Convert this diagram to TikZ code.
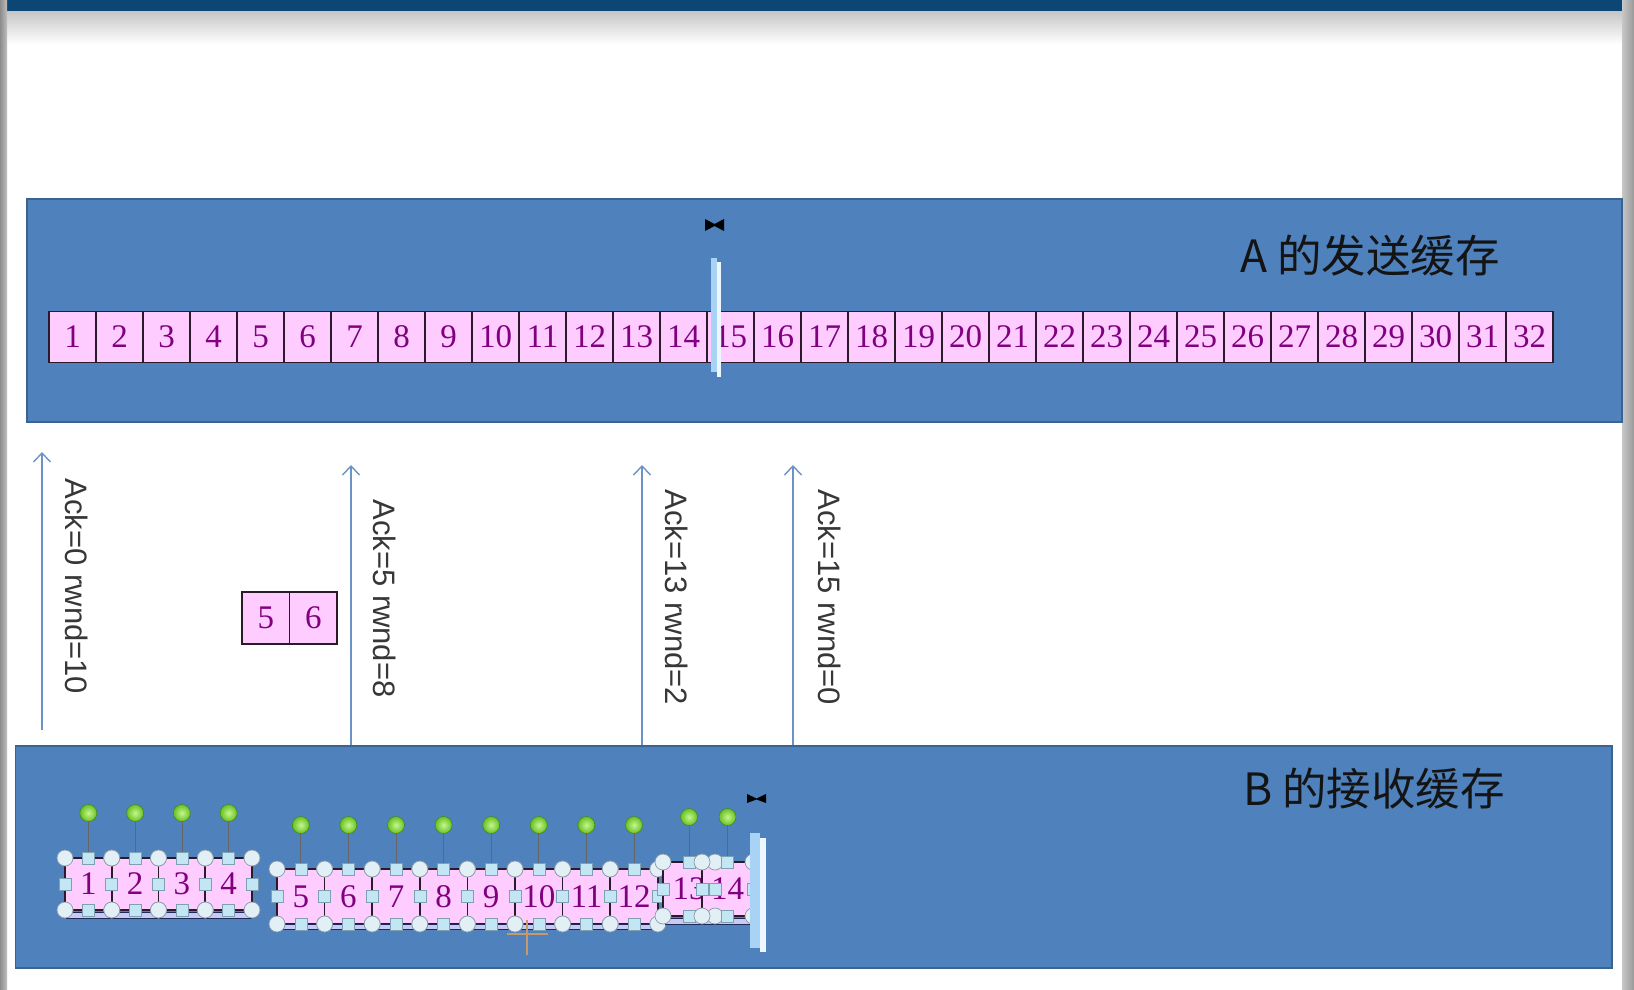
\documentclass[tikz,border=0pt]{standalone}
\usepackage{fontspec}
\setmainfont{Liberation Serif}
\newfontfamily\labelsans{Liberation Sans}
\newfontfamily\cjkfont{Noto Sans CJK SC}
\usetikzlibrary{arrows.meta}

\definecolor{bufblue}{HTML}{4F81BD}
\definecolor{bufedge}{HTML}{3A6391}
\definecolor{cellpink}{HTML}{FFCCFF}
\definecolor{cellline}{HTML}{2A1A2A}
\definecolor{digitpurple}{HTML}{800080}
\definecolor{ackblue}{HTML}{6C93C6}
\definecolor{inkdark}{HTML}{141414}
\definecolor{headbar}{HTML}{0B4675}
\definecolor{cursorlight}{HTML}{A9D3F5}
\definecolor{cursorpale}{HTML}{EEF6FF}
\definecolor{knobfill}{HTML}{E2F0F6}
\definecolor{knobedge}{HTML}{8A9AA8}
\definecolor{sidefill}{HTML}{C2E6F4}
\definecolor{sideedge}{HTML}{7FA0B0}
\definecolor{rotgreen}{HTML}{66C222}
\definecolor{rotlight}{HTML}{C8F590}
\definecolor{barfill}{HTML}{C9C9F2}
\definecolor{barline}{HTML}{1E2A5A}
\definecolor{crosstan}{HTML}{C49A6C}

% selection handles around one cell: left, right, top, bottom, rotation-knob y
\newcommand{\selhandles}[5]{%
  \pgfmathsetmacro\selL{#1}\pgfmathsetmacro\selR{#2}%
  \pgfmathsetmacro\selT{#3}\pgfmathsetmacro\selB{#4}\pgfmathsetmacro\selG{#5}%
  \pgfmathsetmacro\selM{(\selL+\selR)/2}\pgfmathsetmacro\selV{(\selT+\selB)/2}%
  \draw[rotstem] (\selM,\selG) -- (\selM,\selT);
  \shade[inner color=rotlight, outer color=rotgreen] (\selM,\selG) circle (8.5pt);
  \draw[rotgreen!70!black, line width=0.6pt] (\selM,\selG) circle (8.5pt);
  \foreach \cx/\cy in {\selL/\selT,\selR/\selT,\selL/\selB,\selR/\selB}
    {\filldraw[cornerknob] (\cx,\cy) circle (8pt);}
  \foreach \sx/\sy in {\selM/\selT,\selM/\selB,\selL/\selV,\selR/\selV}
    {\filldraw[sideknob] (\sx-6,\sy-6) rectangle (\sx+6,\sy+6);}
}

\begin{document}
\begin{tikzpicture}[x=1pt,y=-1pt,
  bufbox/.style={draw=bufedge, line width=1.5pt, fill=bufblue, inner sep=0pt},
  cell/.style={draw=cellline, line width=1.1pt, fill=cellpink, text=digitpurple,
    minimum width=47pt, minimum height=51pt, inner sep=0pt,
    font=\fontsize{33}{33}\selectfont},
  ackarrow/.style={draw=ackblue, line width=1.4pt,
    -{Straight Barb[length=9pt,width=17pt,line width=1.4pt]}},
  acklabel/.style={rotate=-90, inner sep=0pt, text=inkdark!85,
    font=\labelsans\fontsize{31}{31}\selectfont},
  bufttl/.style={anchor=base west, inner sep=0pt, text=inkdark,
    font=\cjkfont\fontsize{44.5}{44.5}\selectfont},
  rotstem/.style={draw=black!60, line width=0.7pt},
  cornerknob/.style={fill=knobfill, draw=knobedge, line width=0.7pt},
  sideknob/.style={fill=sidefill, draw=sideedge, line width=0.6pt},
  groupbar/.style={fill=barfill, draw=barline, line width=1pt},
  cursorbar/.style={fill=cursorlight, draw=none},
  cursorshade/.style={fill=cursorpale, draw=none},
  bowtie/.style={fill=black}
]
\useasboundingbox (0,0) rectangle (1634,990);
\fill[white] (0,0) rectangle (1634,990);

% window frame: header band, its soft shadow, side edges
\fill[headbar] (7,0) rectangle (1622,12);
\shade[top color=black!22, bottom color=white] (7,12) rectangle (1622,44);
\shade[left color=black!45, right color=black!25] (0,0) rectangle (7,990);
\shade[left color=black!22, right color=black!40] (1622,0) rectangle (1634,990);

% sender buffer
\node[bufbox, minimum width=1595pt, minimum height=223pt] (sendbuf) at (824.5,310.5) {};
\node[bufttl] (sendttl) at (1240,272) {A 的发送缓存};
\foreach \i in {1,...,32}
  \node[cell] (a\i) at ({25.5+47*\i},337) {\i};

% text cursor between 14 and 15
\fill[cursorbar] (711,258) rectangle (717,372);
\fill[cursorshade] (717,262) rectangle (721,377);
\fill[bowtie] (705,219) -- (714.5,224) -- (724,219) -- (724,231) -- (714.5,226) -- (705,231) -- cycle;

% receiver buffer
\node[bufbox, minimum width=1596.5pt, minimum height=222pt] (recvbuf) at (813.75,857) {};
\node[bufttl] (recvttl) at (1243,805) {B 的接收缓存};

% acknowledgements from B to A
\coordinate (t1) at (42,452);
\coordinate (f1) at (42,730);
\coordinate (t2) at (351,465);
\coordinate (t3) at (642,465);
\coordinate (t4) at (793,465);
\draw[ackarrow] (f1) -- (t1);
\draw[ackarrow] (t2 |- recvbuf.north) -- (t2);
\draw[ackarrow] (t3 |- recvbuf.north) -- (t3);
\draw[ackarrow] (t4 |- recvbuf.north) -- (t4);
\node[acklabel] (l1) at (77,586.5) {Ack=0 rwnd=10};
\node[acklabel] (l2) at (385,598.5) {Ack=5 rwnd=8};
\node[acklabel] (l3) at (677,597.5) {Ack=13 rwnd=2};
\node[acklabel] (l4) at (830,597.5) {Ack=15 rwnd=0};

% segments 5 and 6 in flight
\node[cell, minimum width=47.5pt, minimum height=52pt] (p5) at (265.75,618) {5};
\node[cell, minimum width=47.5pt, minimum height=52pt] (p6) at (313.25,618) {6};

% received bytes 1-4 (selected group)
\foreach \i in {1,...,4}
  \node[cell, minimum width=46.75pt, minimum height=52pt, line width=1.6pt] (b\i)
    at ({41.625+46.75*\i},884) {\i};
\filldraw[groupbar] (66,912) rectangle (251,918);
\foreach \i in {1,...,4}
  {\selhandles{65+46.75*(\i-1)}{65+46.75*\i}{858}{910}{813}}

% received bytes 5-12 (selected group)
\foreach \i in {5,...,12}
  \node[cell, minimum width=47.6pt, minimum height=55pt, line width=1.6pt] (b\i)
    at ({277+47.6*(\i-5)+23.8},896.5) {\i};
\filldraw[groupbar] (278,924) rectangle (662,929);
\foreach \i in {5,...,12}
  {\selhandles{277+47.6*(\i-5)}{277+47.6*(\i-4)}{869}{924}{825}}

% received bytes 13-14 (selected group)
\node[cell, minimum width=52pt, minimum height=54pt, line width=1.6pt] (b13) at (689,889) {13};
\node[cell, minimum width=51pt, minimum height=54pt, line width=1.6pt] (b14) at (727.5,889) {14};
\filldraw[groupbar] (665,918) rectangle (752,924);
\selhandles{663}{715}{862}{916}{817}
\selhandles{702}{753}{862}{916}{817}

% text cursor after 14
\fill[cursorbar] (750,833) rectangle (760,948);
\fill[cursorshade] (760,838) rectangle (766,952);
\fill[bowtie] (747,794) -- (756.5,798.5) -- (766,794) -- (766,803) -- (756.5,799.5) -- (747,803) -- cycle;

% mouse crosshair
\draw[crosstan, line width=2.5pt] (527,920) -- (527,955);
\draw[crosstan, line width=2.5pt] (507,934) -- (548,934);
\end{tikzpicture}
\end{document}
